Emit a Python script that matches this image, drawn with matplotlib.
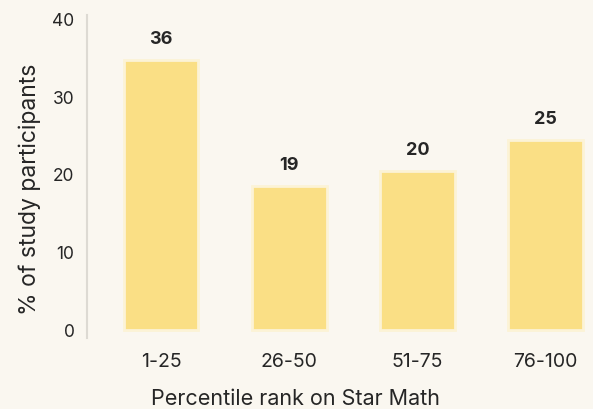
import matplotlib.pyplot as plt

# datos
categorias = ["1-25", "26-50", "51-75", "76-100"]
alturas = [34.8, 18.6, 20.5, 24.5]
etiquetas = ["36", "19", "20", "25"]
ticks_y = [0, 10, 20, 30, 40]

fondo = "#FAF7F0"
amarillo = "#FADF85"
texto = "#262626"

plt.rcParams["font.family"] = ["Inter", "DejaVu Sans"]

fig = plt.figure(figsize=(5.93, 4.09), dpi=100, facecolor=fondo)
ax = fig.add_axes([87 / 593, 1 - 338 / 409, (593 - 87) / 593, (338 - 15) / 409])
ax.set_facecolor(fondo)

x = range(len(categorias))
barras = ax.bar(x, alturas, width=0.58, color=amarillo,
                edgecolor="#FCF3D6", linewidth=2)

for b, t in zip(barras, etiquetas):
    ax.text(b.get_x() + b.get_width() / 2, b.get_height() + 1.5, t,
            ha="center", va="bottom", fontsize=13, fontweight="bold", color=texto)

ax.set_xlim(-0.58, 3.37)
ax.set_ylim(-1.0, 40.6)
ax.set_xticks(list(x))
ax.set_xticklabels(categorias, fontsize=14, color=texto)
ax.set_yticks(ticks_y)
ax.set_yticklabels([str(v) for v in ticks_y], fontsize=12.5, color=texto)
ax.tick_params(axis="both", length=0)
ax.tick_params(axis="x", pad=11)
ax.tick_params(axis="y", pad=9)

for lado in ["top", "right", "bottom"]:
    ax.spines[lado].set_visible(False)
ax.spines["left"].set_color("#DDDAD3")
ax.spines["left"].set_linewidth(1.5)

ax.set_xlabel("Percentile rank on Star Math", fontsize=15.5, color=texto, va="center")
ax.xaxis.set_label_coords(0.413, -0.19)
ax.set_ylabel("% of study participants", fontsize=16.5, color=texto, va="center")
ax.yaxis.set_label_coords(-0.113, 0.461)

fig.savefig("out.png", dpi=100, facecolor=fondo)
